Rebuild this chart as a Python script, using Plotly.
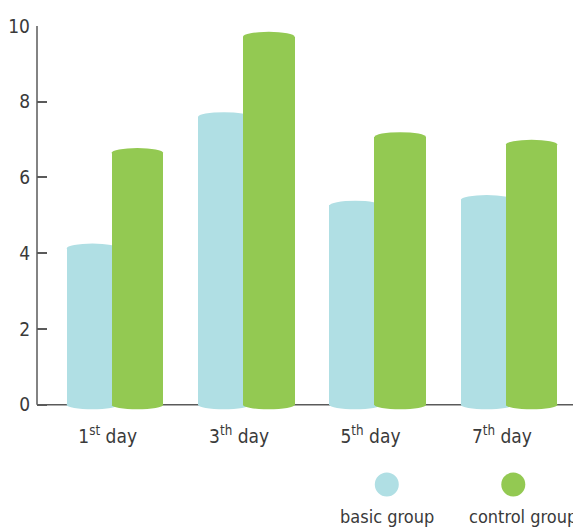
import plotly.graph_objects as go

# Recovery score by day for the two groups
days = ["1<sup>st</sup> day", "3<sup>th</sup> day", "5<sup>th</sup> day", "7<sup>th</sup> day"]
basic_group = [4.13, 7.60, 5.26, 5.41]
control_group = [6.65, 9.72, 7.07, 6.87]
y_ticks = [0, 2, 4, 6, 8, 10]

BLUE = "#B0DFE4"
GREEN = "#93C952"
AXIS = "#5a5a5a"
TEXT = "#3a3a3a"
FONT = "DejaVu Sans Condensed, Liberation Sans Narrow, sans-serif"

pos = list(range(len(days)))
bar_w = 0.393          # width of each cylinder, in category units
blue_shift = -0.146    # blue cylinder sits left, partly behind the green one
green_shift = 0.196
cap = 0.125            # half height of the elliptical caps (y units)

fig = go.Figure()
fig.add_trace(go.Bar(x=[p + blue_shift for p in pos], y=basic_group, width=bar_w,
                     marker=dict(color=BLUE, line=dict(width=0)), name="basic group",
                     showlegend=False))
fig.add_trace(go.Bar(x=[p + green_shift for p in pos], y=control_group, width=bar_w,
                     marker=dict(color=GREEN, line=dict(width=0)), name="control group",
                     showlegend=False))

shapes = []
# baseline and vertical axis line
shapes.append(dict(type="line", xref="paper", yref="y", x0=0, x1=1, y0=0, y1=0,
                   line=dict(color=AXIS, width=1.5), layer="below"))
shapes.append(dict(type="line", xref="paper", yref="y", x0=0, x1=0, y0=0, y1=10,
                   line=dict(color=AXIS, width=1.5), layer="below"))

# elliptical caps turning the bars into cylinders
for shift, vals, col in ((blue_shift, basic_group, BLUE), (green_shift, control_group, GREEN)):
    for p, v in zip(pos, vals):
        cx = p + shift
        for cy in (0, v):
            shapes.append(dict(type="circle", xref="x", yref="y",
                               x0=cx - bar_w / 2, x1=cx + bar_w / 2,
                               y0=cy - cap, y1=cy + cap,
                               fillcolor=col, line=dict(width=0), layer="below"))

# custom legend: dot above label
legend_items = [("basic group", BLUE, 0.6526, "center", 0.6526),
                ("control group", GREEN, 0.8886, "left", 0.8045)]
annotations = []
for label, col, xp, anchor, xt in legend_items:
    shapes.append(dict(type="circle", xref="paper", yref="paper",
                       x0=xp - 0.0224, x1=xp + 0.0224, y0=-0.1756 - 0.0308, y1=-0.1756 + 0.0308,
                       fillcolor=col, line=dict(width=0)))
    annotations.append(dict(text=label, xref="paper", yref="paper", x=xt, y=-0.258,
                            xanchor=anchor, yanchor="middle", showarrow=False,
                            xshift=-1 if anchor == "left" else 0,
                            font=dict(size=18, color=TEXT, family=FONT)))

fig.update_layout(
    width=573, height=530,
    margin=dict(l=37, r=0, t=26, b=114),
    plot_bgcolor="white", paper_bgcolor="white",
    barmode="overlay", bargap=0,
    font=dict(family=FONT, size=19, color=TEXT),
    shapes=shapes, annotations=annotations,
    showlegend=False,
    xaxis=dict(range=[-0.568, 3.511], tickmode="array",
               tickvals=[p - 0.03 for p in pos], ticktext=days,
               showline=False, showgrid=False, zeroline=False, ticks="",
               ticklabelstandoff=7, fixedrange=True),
    yaxis=dict(range=[-0.3, 10], tickmode="array", tickvals=y_ticks,
               ticktext=[str(t) for t in y_ticks],
               showline=False, showgrid=False, zeroline=False,
               ticks="inside", ticklen=10, tickwidth=1.5, tickcolor=AXIS,
               ticklabelstandoff=6, fixedrange=True),
)

fig.write_html("out.html")
